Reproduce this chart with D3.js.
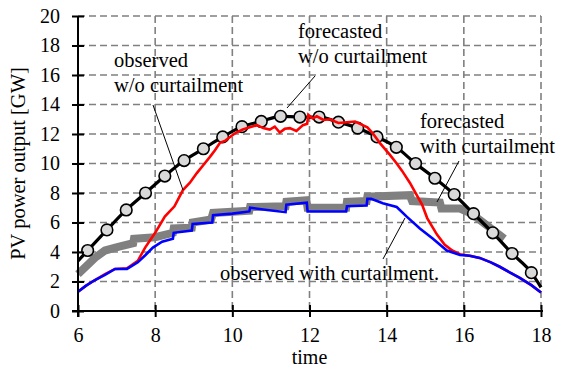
<!DOCTYPE html>
<html>
<head>
<meta charset="utf-8">
<script src="https://cdn.jsdelivr.net/npm/d3@7"></script>
<style>
  body { margin: 0; background: #fff; }
  text { font-family: "Liberation Serif", "Times New Roman", serif; fill: #000; }
</style>
</head>
<body>
<script>
// ---- data ----
const xTicks = [6, 8, 10, 12, 14, 16, 18];
const yTicks = [0, 2, 4, 6, 8, 10, 12, 14, 16, 18, 20];

// forecasted w/o curtailment (black line, circles every half hour)
const fcstHours = [6.25, 6.75, 7.25, 7.75, 8.25, 8.75, 9.25, 9.75, 10.25, 10.75, 11.25, 11.75,
                   12.25, 12.75, 13.25, 13.75, 14.25, 14.75, 15.25, 15.75, 16.25, 16.75, 17.25, 17.75];
const fcstNoCurt = [4.1, 5.5, 6.85, 8.0, 9.15, 10.2, 11.0, 11.8, 12.5, 12.85, 13.2, 13.15,
                    13.15, 12.8, 12.4, 11.8, 11.1, 10.0, 9.0, 7.9, 6.6, 5.3, 3.9, 2.6];
const fcstLineHours = [6.0].concat(fcstHours, [18.0]);
const fcstLineValues = [3.4].concat(fcstNoCurt, [1.6]);

// forecasted with curtailment (thick grey, stepped)
const fcstCurtHours = [6.0, 6.44, 6.7, 7.04, 7.43, 7.45, 8.0, 8.46, 8.48, 8.95, 8.97, 9.45, 9.5,
                       10.44, 10.46, 11.38, 11.4, 11.92, 11.95, 12.95, 12.97, 13.48, 13.5, 14.6,
                       14.66, 15.38, 15.42, 15.9, 16.2, 17.05];
const fcstCurt = [2.5, 3.6, 4.1, 4.35, 4.6, 4.9, 5.0, 5.3, 5.6, 5.65, 6.0, 6.2, 6.65,
                  6.8, 7.05, 7.1, 7.4, 7.5, 7.0, 7.0, 7.4, 7.45, 7.75, 7.85,
                  7.45, 7.35, 6.95, 6.95, 6.6, 4.9];

// observed w/o curtailment (red)
const obsHours = [6.0, 6.2, 6.44, 6.7, 6.96, 7.27, 7.55, 7.74, 8.0, 8.25, 8.5, 8.72, 8.9, 9.08, 9.25,
                  9.42, 9.55, 9.68, 9.82, 9.94, 10.1, 10.27, 10.45, 10.64, 10.8, 10.97, 11.1, 11.23,
                  11.36, 11.49, 11.66, 11.83, 11.94, 11.97, 12.08, 12.19, 12.36, 12.53, 12.75, 12.97,
                  13.18, 13.38, 13.5, 13.64, 13.82, 14.08, 14.26, 14.4, 14.6, 14.78, 14.92, 15.05,
                  15.3, 15.5, 15.7, 15.9, 16.15, 16.41, 16.7, 16.93, 17.2, 17.45, 17.75, 18.0];
const obsNoCurt = [1.3, 1.7, 2.1, 2.5, 2.85, 2.9, 3.4, 4.3, 5.3, 6.4, 7.1, 8.2, 8.7, 9.35, 9.9,
                   10.45, 10.9, 11.4, 11.55, 11.8, 12.1, 12.3, 12.45, 12.6, 12.4, 12.3, 12.5, 12.1,
                   12.35, 12.4, 12.2, 12.6, 12.7, 13.3, 13.05, 13.2, 12.95, 13.0, 12.75, 12.8,
                   12.85, 12.6, 12.45, 12.05, 11.4, 10.6, 10.0, 9.5, 8.7, 7.85, 7.2, 6.3,
                   5.2, 4.5, 4.1, 3.85, 3.75, 3.6, 3.3, 3.0, 2.6, 2.25, 1.75, 1.25];

// observed with curtailment (blue)
const obsCurtHours = [6.0, 6.2, 6.44, 6.7, 6.96, 7.27, 7.55, 7.75, 7.94, 8.18, 8.46, 8.48, 8.95, 8.97,
                      9.48, 9.5, 10.0, 10.44, 10.46, 10.9, 11.38, 11.4, 11.93, 11.95, 12.95, 12.97,
                      13.48, 13.5, 13.6, 13.9, 14.26, 14.52, 14.86, 15.2, 15.56, 15.9, 16.15, 16.41,
                      16.7, 16.93, 17.2, 17.45, 17.75, 18.0];
const obsCurt = [1.3, 1.7, 2.1, 2.45, 2.85, 2.85, 3.3, 3.8, 4.3, 4.7, 4.9, 5.3, 5.45, 5.9,
                 6.0, 6.5, 6.6, 6.75, 7.0, 6.85, 6.7, 7.2, 7.35, 6.75, 6.75, 7.1,
                 7.15, 7.6, 7.6, 7.3, 7.05, 6.4, 5.6, 4.9, 4.1, 3.8, 3.75, 3.6,
                 3.3, 3.0, 2.6, 2.25, 1.75, 1.25];

// ---- layout ----
const width = 561, height = 369;
const plotLeft = 78, plotRight = 541, plotTop = 16, plotBottom = 311;
const serif = "'Liberation Serif', 'Times New Roman', serif";

const svg = d3.select("body").append("svg")
  .attr("width", width)
  .attr("height", height);

const x = d3.scaleLinear().domain([6, 18]).range([plotLeft, plotRight]);
const y = d3.scaleLinear().domain([0, 20]).range([plotBottom, plotTop]);

// dashed grid + frame
const grid = svg.append("g")
  .attr("stroke", "#808080")
  .attr("stroke-width", 1.6)
  .attr("stroke-dasharray", "7,4");

grid.selectAll("line.h")
  .data(yTicks.filter(d => d > 0))
  .enter().append("line")
  .attr("x1", plotLeft).attr("x2", plotRight)
  .attr("y1", d => y(d)).attr("y2", d => y(d));

grid.selectAll("line.v")
  .data(xTicks.filter(d => d > 6))
  .enter().append("line")
  .attr("x1", d => x(d)).attr("x2", d => x(d))
  .attr("y1", plotTop).attr("y2", plotBottom);

const pts = (xs, ys) => xs.map((h, i) => [h, ys[i]]);

// forecasted with curtailment
svg.append("path")
  .datum(pts(fcstCurtHours, fcstCurt))
  .attr("fill", "none")
  .attr("stroke", "#808080")
  .attr("stroke-width", 8)
  .attr("d", d3.line().x(d => x(d[0])).y(d => y(d[1])));

// forecasted w/o curtailment
svg.append("path")
  .datum(pts(fcstLineHours, fcstLineValues))
  .attr("fill", "none")
  .attr("stroke", "#000")
  .attr("stroke-width", 3.2)
  .attr("d", d3.line().curve(d3.curveMonotoneX).x(d => x(d[0])).y(d => y(d[1])));

svg.selectAll("circle.fc")
  .data(pts(fcstHours, fcstNoCurt))
  .enter().append("circle")
  .attr("cx", d => x(d[0]))
  .attr("cy", d => y(d[1]))
  .attr("r", 5.8)
  .attr("fill", "#d9d9d9")
  .attr("stroke", "#000")
  .attr("stroke-width", 1.6);

// observed w/o curtailment
svg.append("path")
  .datum(pts(obsHours, obsNoCurt))
  .attr("fill", "none")
  .attr("stroke", "#ff0000")
  .attr("stroke-width", 2.6)
  .attr("d", d3.line().x(d => x(d[0])).y(d => y(d[1])));

// observed with curtailment
svg.append("path")
  .datum(pts(obsCurtHours, obsCurt))
  .attr("fill", "none")
  .attr("stroke", "#0000ff")
  .attr("stroke-width", 2.6)
  .attr("d", d3.line().x(d => x(d[0])).y(d => y(d[1])));

// axes
const xAxis = svg.append("g")
  .attr("transform", `translate(0,${plotBottom})`)
  .call(d3.axisBottom(x).tickValues(xTicks).tickSizeInner(6).tickSizeOuter(0).tickPadding(11));
const yAxis = svg.append("g")
  .attr("transform", `translate(${plotLeft},0)`)
  .call(d3.axisLeft(y).tickValues(yTicks).tickSizeInner(6).tickSizeOuter(0).tickPadding(12));

[xAxis, yAxis].forEach(g => {
  g.attr("font-family", serif).attr("font-size", 20);
  g.select(".domain").attr("stroke", "#000").attr("stroke-width", 2);
  g.selectAll(".tick line").attr("stroke", "#000").attr("stroke-width", 2);
  g.selectAll(".tick text").attr("font-family", serif).attr("font-size", 20);
});
// ticks cross the axis line
xAxis.selectAll(".tick line").attr("y1", -6).attr("y2", 6);
yAxis.selectAll(".tick line").attr("x1", -6).attr("x2", 6);
xAxis.select(".domain").attr("d", `M${plotLeft - 6},0H${plotRight + 2}`);
yAxis.select(".domain").attr("d", `M0,${plotTop}V${plotBottom + 6}`);

// axis titles
svg.append("text")
  .attr("x", (plotLeft + plotRight) / 2)
  .attr("y", 364)
  .attr("text-anchor", "middle")
  .style("font-size", "20px")
  .text("time");

svg.append("text")
  .attr("transform", `translate(25,${(plotTop + plotBottom) / 2}) rotate(-90)`)
  .attr("text-anchor", "middle")
  .style("font-size", "20.5px")
  .text("PV power output [GW]");

// annotations
const notes = [
  { lines: ["observed", "w/o curtailment"], x: 114, y: 67, from: [153, 105], to: [183, 190] },
  { lines: ["forecasted", "w/o curtailment"], x: 298, y: 38, from: [315, 76], to: [287, 108] },
  { lines: ["forecasted", "with curtailment"], x: 420, y: 128, from: [459, 161], to: [437, 202] },
  { lines: ["observed with curtailment."], x: 220, y: 280, from: [405, 218], to: [383, 259] }
];

notes.forEach(n => {
  const t = svg.append("text").style("font-size", "20.5px");
  n.lines.forEach((l, i) => {
    t.append("tspan").attr("x", n.x).attr("y", n.y + i * 24.5).text(l);
  });
  svg.append("line")
    .attr("x1", n.from[0]).attr("y1", n.from[1])
    .attr("x2", n.to[0]).attr("y2", n.to[1])
    .attr("stroke", "#000")
    .attr("stroke-width", 1);
});
</script>
</body>
</html>
